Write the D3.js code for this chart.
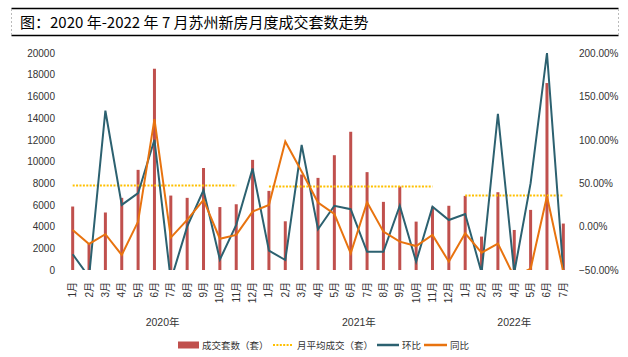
<!DOCTYPE html>
<html><head><meta charset="utf-8">
<script src="https://cdn.jsdelivr.net/npm/d3@7"></script>
<style>
html,body{margin:0;padding:0;background:#fff;}
svg{display:block;font-family:"Liberation Sans",Arial,"Noto Sans CJK SC",sans-serif;}
</style></head>
<body>
<svg id="c" width="628" height="357"></svg>
<script>
const title = "图：2020 年-2022 年 7 月苏州新房月度成交套数走势";
const monthLabels = ["1月","2月","3月","4月","5月","6月","7月","8月","9月","10月","11月","12月",
  "1月","2月","3月","4月","5月","6月","7月","8月","9月","10月","11月","12月",
  "1月","2月","3月","4月","5月","6月","7月"];
const years = ["2020年","2021年","2022年"];
const yearOfMonth = [0,0,0,0,0,0,0,0,0,0,0,0,1,1,1,1,1,1,1,1,1,1,1,1,2,2,2,2,2,2,2];
const deals = [5850,2450,5300,6650,9230,18550,6860,6650,9400,5800,6060,10150,
  7290,4490,8800,8490,10580,12740,9020,6280,7690,4460,5830,5920,
  6830,3080,7170,3690,5540,17230,4280];
const avgMonthly = [7790,7790,7790,7790,7790,7790,7790,7790,7790,7790,7790,null,
  7690,7690,7690,7690,7690,7690,7690,7690,7690,7690,7690,null,
  6860,6860,6860,6860,6860,6860,6860];
const huanbi = [-31.9,-58,133.5,25,38.5,100,-62,0,42,-38,2,67,
  -27.7,-38.5,94,-3,24,20,-29,-29,24,-40.5,23,7.6,
  14.5,-53,130,-53,50,200,-52];
const tongbi = [-3.8,-20,-8.8,-32.7,5.8,123.8,-12.7,7.7,30.8,-14,-9.6,17.3,
  25,98,63.5,27.7,14.6,-30.8,28,-5.8,-17.3,-22.4,-9.7,-40.4,
  -7.7,-30,-19.5,-58,-48.5,35,-52];
const leftTicks = [0,2000,4000,6000,8000,10000,12000,14000,16000,18000,20000];
const rightTicks = [-50,0,50,100,150,200];
const legendLabels = ["成交套数（套）","月平均成交（套）","环比","同比"];

const C = {bar:"#C0504D", avg:"#FFC000", hb:"#2C6170", tb:"#E8730F", text:"#333"};
const svg = d3.select("#c");
const idx = d3.range(deals.length);
const x = d3.scaleBand().domain(idx).range([64.5,571.5]).padding(0);
const cx = i => x(i) + x.bandwidth()/2;
const yL = d3.scaleLinear().domain([0,20000]).range([270,53]);
const yR = d3.scaleLinear().domain([-50,200]).range([270,53]);

// title box
const tb = svg.append("g");
tb.append("line").attr("x1",11.5).attr("x2",618.5).attr("y1",8.5).attr("y2",8.5).attr("stroke","#000").attr("stroke-width",1.5);
tb.append("line").attr("x1",11.5).attr("x2",618.5).attr("y1",35.5).attr("y2",35.5).attr("stroke","#000").attr("stroke-width",1.5);
tb.append("line").attr("x1",11.5).attr("x2",11.5).attr("y1",9).attr("y2",35).attr("stroke","#bbb").attr("stroke-dasharray","2,2");
tb.append("line").attr("x1",618.5).attr("x2",618.5).attr("y1",9).attr("y2",35).attr("stroke","#bbb").attr("stroke-dasharray","2,2");
tb.append("text").attr("x",20).attr("y",28).attr("font-size",15).attr("fill","#000")
  .attr("font-family","'Noto Sans CJK SC',sans-serif").text(title);

// clip
svg.append("defs").append("clipPath").attr("id","pc").append("rect")
  .attr("x",60).attr("y",50).attr("width",520).attr("height",220);

// bars
svg.append("g").selectAll("rect").data(idx).join("rect")
  .attr("x", i => cx(i)-1.5).attr("width",3)
  .attr("y", i => yL(deals[i])).attr("height", i => yL(0)-yL(deals[i]))
  .attr("fill", C.bar);

// avg
const avgLine = d3.line().defined(i => avgMonthly[i] != null).x(cx).y(i => yL(avgMonthly[i]));
svg.append("path").attr("d", avgLine(idx)).attr("fill","none").attr("stroke",C.avg)
  .attr("stroke-width",2).attr("stroke-dasharray","2,1.4");

// lines
const g = svg.append("g").attr("clip-path","url(#pc)");
g.append("path").attr("d", d3.line().x(cx).y(i => yR(huanbi[i]))(idx))
  .attr("fill","none").attr("stroke",C.hb).attr("stroke-width",2).attr("stroke-linejoin","miter");
g.append("path").attr("d", d3.line().x(cx).y(i => yR(tongbi[i]))(idx))
  .attr("fill","none").attr("stroke",C.tb).attr("stroke-width",2).attr("stroke-linejoin","miter");

// axes
const axL = svg.append("g").attr("transform","translate(58,0)")
  .call(d3.axisLeft(yL).tickValues(leftTicks).tickSize(0).tickPadding(3).tickFormat(d3.format("d")));
const axR = svg.append("g").attr("transform","translate(576,0)")
  .call(d3.axisRight(yR).tickValues(rightTicks).tickSize(0).tickPadding(3).tickFormat(d => d3.format(".2f")(d)+"%"));
const axB = svg.append("g").attr("transform","translate(0,279)")
  .call(d3.axisBottom(x).tickSize(0).tickPadding(0).tickFormat(i => monthLabels[i]));
[axL,axR,axB].forEach(a => { a.select(".domain").remove();
  a.selectAll("text").attr("fill",C.text).attr("font-size",10)
   .attr("font-family","'Liberation Sans','Noto Sans CJK SC',sans-serif"); });
axB.selectAll("text").attr("transform","rotate(-90)").attr("text-anchor","end")
  .attr("x",-3).attr("y",0).attr("dy","0.35em");
axB.selectAll(".tick").attr("transform", i => `translate(${cx(i)},0)`);

// year labels
years.forEach((yname, k) => {
  const ii = idx.filter(i => yearOfMonth[i] === k);
  const mid = (cx(ii[0]) + cx(ii[ii.length-1]))/2;
  svg.append("text").attr("x", mid).attr("y", 326).attr("text-anchor","middle")
    .attr("font-size",10.5).attr("fill",C.text).text(yname);
});

// legend
const lg = svg.append("g").attr("font-size",9.5).attr("fill",C.text);
lg.append("rect").attr("x",178).attr("y",341.5).attr("width",21).attr("height",7).attr("fill",C.bar);
lg.append("text").attr("x",202).attr("y",349).text(legendLabels[0]);
lg.append("line").attr("x1",273).attr("x2",293).attr("y1",345).attr("y2",345).attr("stroke",C.avg).attr("stroke-width",2).attr("stroke-dasharray","2,1.4");
lg.append("text").attr("x",297).attr("y",349).text(legendLabels[1]);
lg.append("line").attr("x1",377).attr("x2",399).attr("y1",345).attr("y2",345).attr("stroke",C.hb).attr("stroke-width",2.5);
lg.append("text").attr("x",402).attr("y",349).text(legendLabels[2]);
lg.append("line").attr("x1",424).attr("x2",447).attr("y1",345).attr("y2",345).attr("stroke",C.tb).attr("stroke-width",2.5);
lg.append("text").attr("x",450).attr("y",349).text(legendLabels[3]);
</script>
</body></html>
